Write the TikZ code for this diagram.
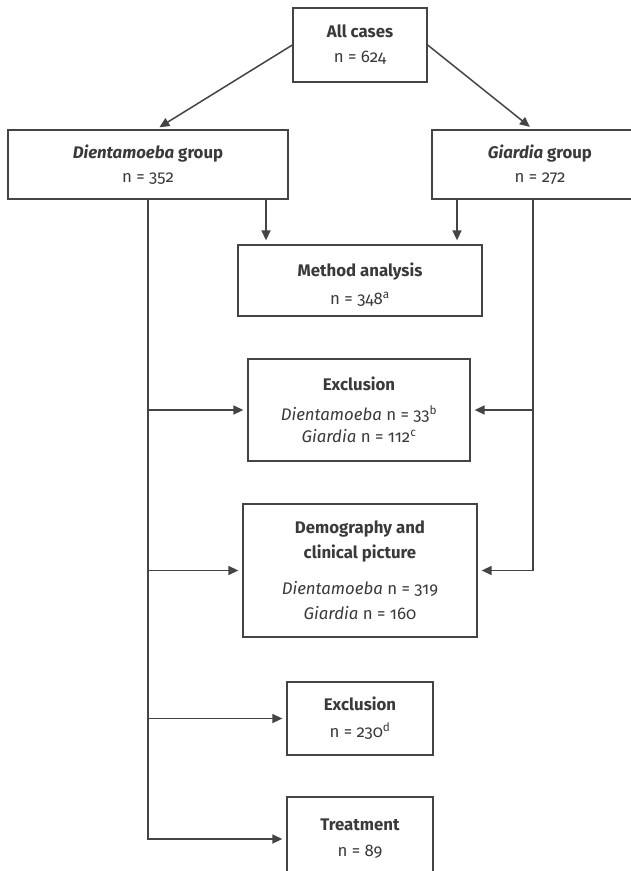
\documentclass[tikz,border=0pt]{standalone}
\usepackage{fontspec}
\setmainfont{Fira Sans}[Numbers=OldStyle]
\usetikzlibrary{arrows.meta}
\definecolor{ink}{HTML}{3A3A3A}
\definecolor{edgec}{HTML}{444444}
\tikzset{
  box/.style={draw=edgec, line width=1.3pt, inner sep=0pt, align=center, text=ink},
  txt/.style={inner sep=0pt, align=center, text=ink},
  conn/.style={draw=edgec, line width=1.5pt, shorten >=4pt, -{Triangle[length=10pt,width=9pt]}},
}
\begin{document}
\begin{tikzpicture}[x=1pt,y=-1pt]
\useasboundingbox (0,0) rectangle (631,871);
\clip (0,0) rectangle (631,871);
\fill[white] (0,0) rectangle (631,871);

\node[box, minimum width=134pt, minimum height=74pt, font=\fontsize{16.8}{25}\selectfont] (all) at (360,45) {\textbf{All cases}\\n = 624};
\node[box, minimum width=280pt, minimum height=69pt, font=\fontsize{16.8}{24}\selectfont] (dient) at (148,164.5) {\textbf{\textit{Dientamoeba} group}\\n = 352};
\node[box, minimum width=216pt, minimum height=69pt, font=\fontsize{16.8}{24}\selectfont] (giard) at (540,164.5) {\textbf{\textit{Giardia} group}\\n = 272};
\node[box, minimum width=244pt, minimum height=71pt] (method) at (360,280.5) {};
\node[txt, font=\fontsize{16.8}{28}\selectfont] (methodtxt) at (360,285) {\textbf{Method analysis}\\n = 348\textsuperscript{a}};
\node[box, minimum width=222pt, minimum height=102pt, font=\fontsize{16.8}{22}\selectfont] (excl1) at (359,410) {\textbf{Exclusion}\\[8pt]\textit{Dientamoeba} n = 33\textsuperscript{b}\\\textit{Giardia} n = 112\textsuperscript{c}};
\node[box, minimum width=234pt, minimum height=133pt, font=\fontsize{16.8}{25}\selectfont] (demo) at (360,570.5) {\textbf{Demography and}\\\textbf{clinical picture}\\[11pt]\textit{Dientamoeba} n = 319\\\textit{Giardia} n = 160};
\node[box, minimum width=146pt, minimum height=73pt, font=\fontsize{16.8}{27}\selectfont] (excl2) at (360,718.5) {\textbf{Exclusion}\\n = 230\textsuperscript{d}};
\node[box, minimum width=146pt, minimum height=84pt, font=\fontsize{16.8}{26}\selectfont] (treat) at (360,839) {\textbf{Treatment}\\n = 89};

\draw[conn] (all.west) -- ([xshift=8pt]dient.north);
\draw[conn] (all.east) -- ([xshift=-7pt]giard.north);
\draw[conn] ([xshift=-94pt]method.north |- dient.south) -- ([xshift=-94pt]method.north);
\draw[conn] ([xshift=97pt]method.north |- giard.south) -- ([xshift=97pt]method.north);

\draw[conn] (dient.south) |- (treat.west);
\draw[conn] (dient.south |- excl1.west) -- (excl1.west);
\draw[conn] (dient.south |- demo.west) -- (demo.west);
\draw[conn] (dient.south |- excl2.west) -- (excl2.west);

\coordinate (gdown) at ([xshift=-7pt]giard.south);
\draw[conn] (gdown) |- (demo.east);
\draw[conn] (gdown |- excl1.east) -- (excl1.east);
\end{tikzpicture}
\end{document}
